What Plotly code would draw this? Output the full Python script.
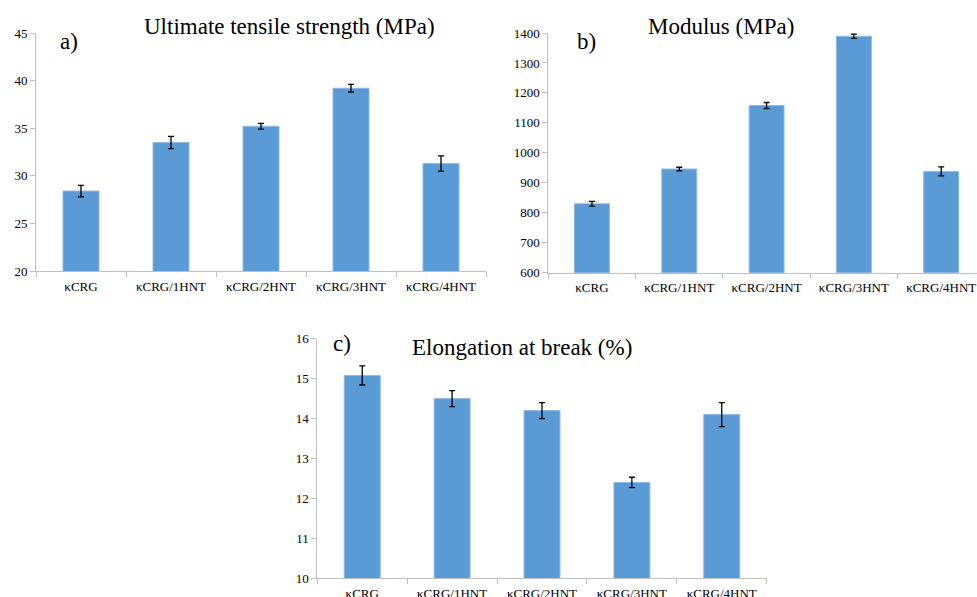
import plotly.graph_objects as go

W, H = 977, 597

categories = ["κCRG", "κCRG/1HNT", "κCRG/2HNT", "κCRG/3HNT", "κCRG/4HNT"]
uts_values = [28.4, 33.5, 35.2, 39.2, 31.3]
uts_errors = [0.6, 0.65, 0.3, 0.4, 0.8]
mod_values = [830, 946, 1158, 1389, 938]
mod_errors = [8, 6, 10, 7, 15]
elong_values = [15.08, 14.5, 14.2, 12.4, 14.1]
elong_errors = [0.24, 0.2, 0.2, 0.13, 0.3]

BAR = "#5B9BD5"
FONT = "Liberation Serif, Times New Roman, serif"
AX = "#BFBFBF"


def px(x):
    return x / W


def py(y):
    return 1 - y / H


fig = go.Figure()


def add_bar(vals, errs, xa, ya):
    fig.add_trace(go.Bar(
        x=categories, y=vals, xaxis=xa, yaxis=ya, width=0.4,
        marker=dict(color=BAR, line=dict(color="#8DB9E3", width=1)),
        error_y=dict(type="data", array=errs, visible=True,
                     color="black", thickness=1.3, width=3),
        showlegend=False, hoverinfo="skip",
    ))


add_bar(uts_values, uts_errors, "x", "y")
add_bar(mod_values, mod_errors, "x2", "y2")
add_bar(elong_values, elong_errors, "x3", "y3")

xcommon = dict(type="category", showline=True, linecolor=AX, linewidth=1,
               ticks="outside", tickson="boundaries", ticklen=5, tickcolor=AX,
               showgrid=False, zeroline=False, automargin=False,
               ticklabelstandoff=3,
               tickfont=dict(family=FONT, size=13, color="black"))
ycommon = dict(showline=True, linecolor=AX, linewidth=1, ticks="outside",
               ticklen=5, tickcolor=AX, showgrid=False, zeroline=False,
               automargin=False,
               tickfont=dict(family=FONT, size=13, color="black"))

fig.update_layout(
    width=W, height=H, margin=dict(l=0, r=0, t=0, b=0, autoexpand=False),
    paper_bgcolor="white", plot_bgcolor="white", bargap=0.6,
    xaxis=dict(domain=[px(36), px(486)], anchor="y", range=[-0.5, 4.5], **xcommon),
    yaxis=dict(domain=[py(271), py(33)], anchor="x", range=[20, 45], dtick=5, **ycommon),
    xaxis2=dict(domain=[px(548.3), 1], anchor="y2", range=[-0.5, 4.41], **xcommon),
    yaxis2=dict(domain=[py(272.7), py(33)], anchor="x2", range=[600, 1400], dtick=100, **ycommon),
    xaxis3=dict(domain=[px(317.3), px(766.7)], anchor="y3", range=[-0.5, 4.5], **xcommon),
    yaxis3=dict(domain=[py(578.3), py(338.7)], anchor="x3", range=[10, 16], dtick=1, **ycommon),
)

titles = [
    ("Ultimate tensile strength (MPa)", 289, 26),
    ("Modulus (MPa)", 721, 26),
    ("Elongation at break (%)", 522, 347),
    ("a)", 68.5, 41),
    ("b)", 586.5, 42),
    ("c)", 341.5, 343),
]
for text, x, y in titles:
    fig.add_annotation(text=text, x=px(x), y=py(y), xref="paper", yref="paper",
                       xanchor="center", yanchor="middle", showarrow=False,
                       font=dict(family=FONT, size=23, color="black"))

fig.write_html(
    "out.html",
    config={"displayModeBar": False},
    post_script="document.body.style.margin='0';document.body.style.overflow='hidden';",
)
